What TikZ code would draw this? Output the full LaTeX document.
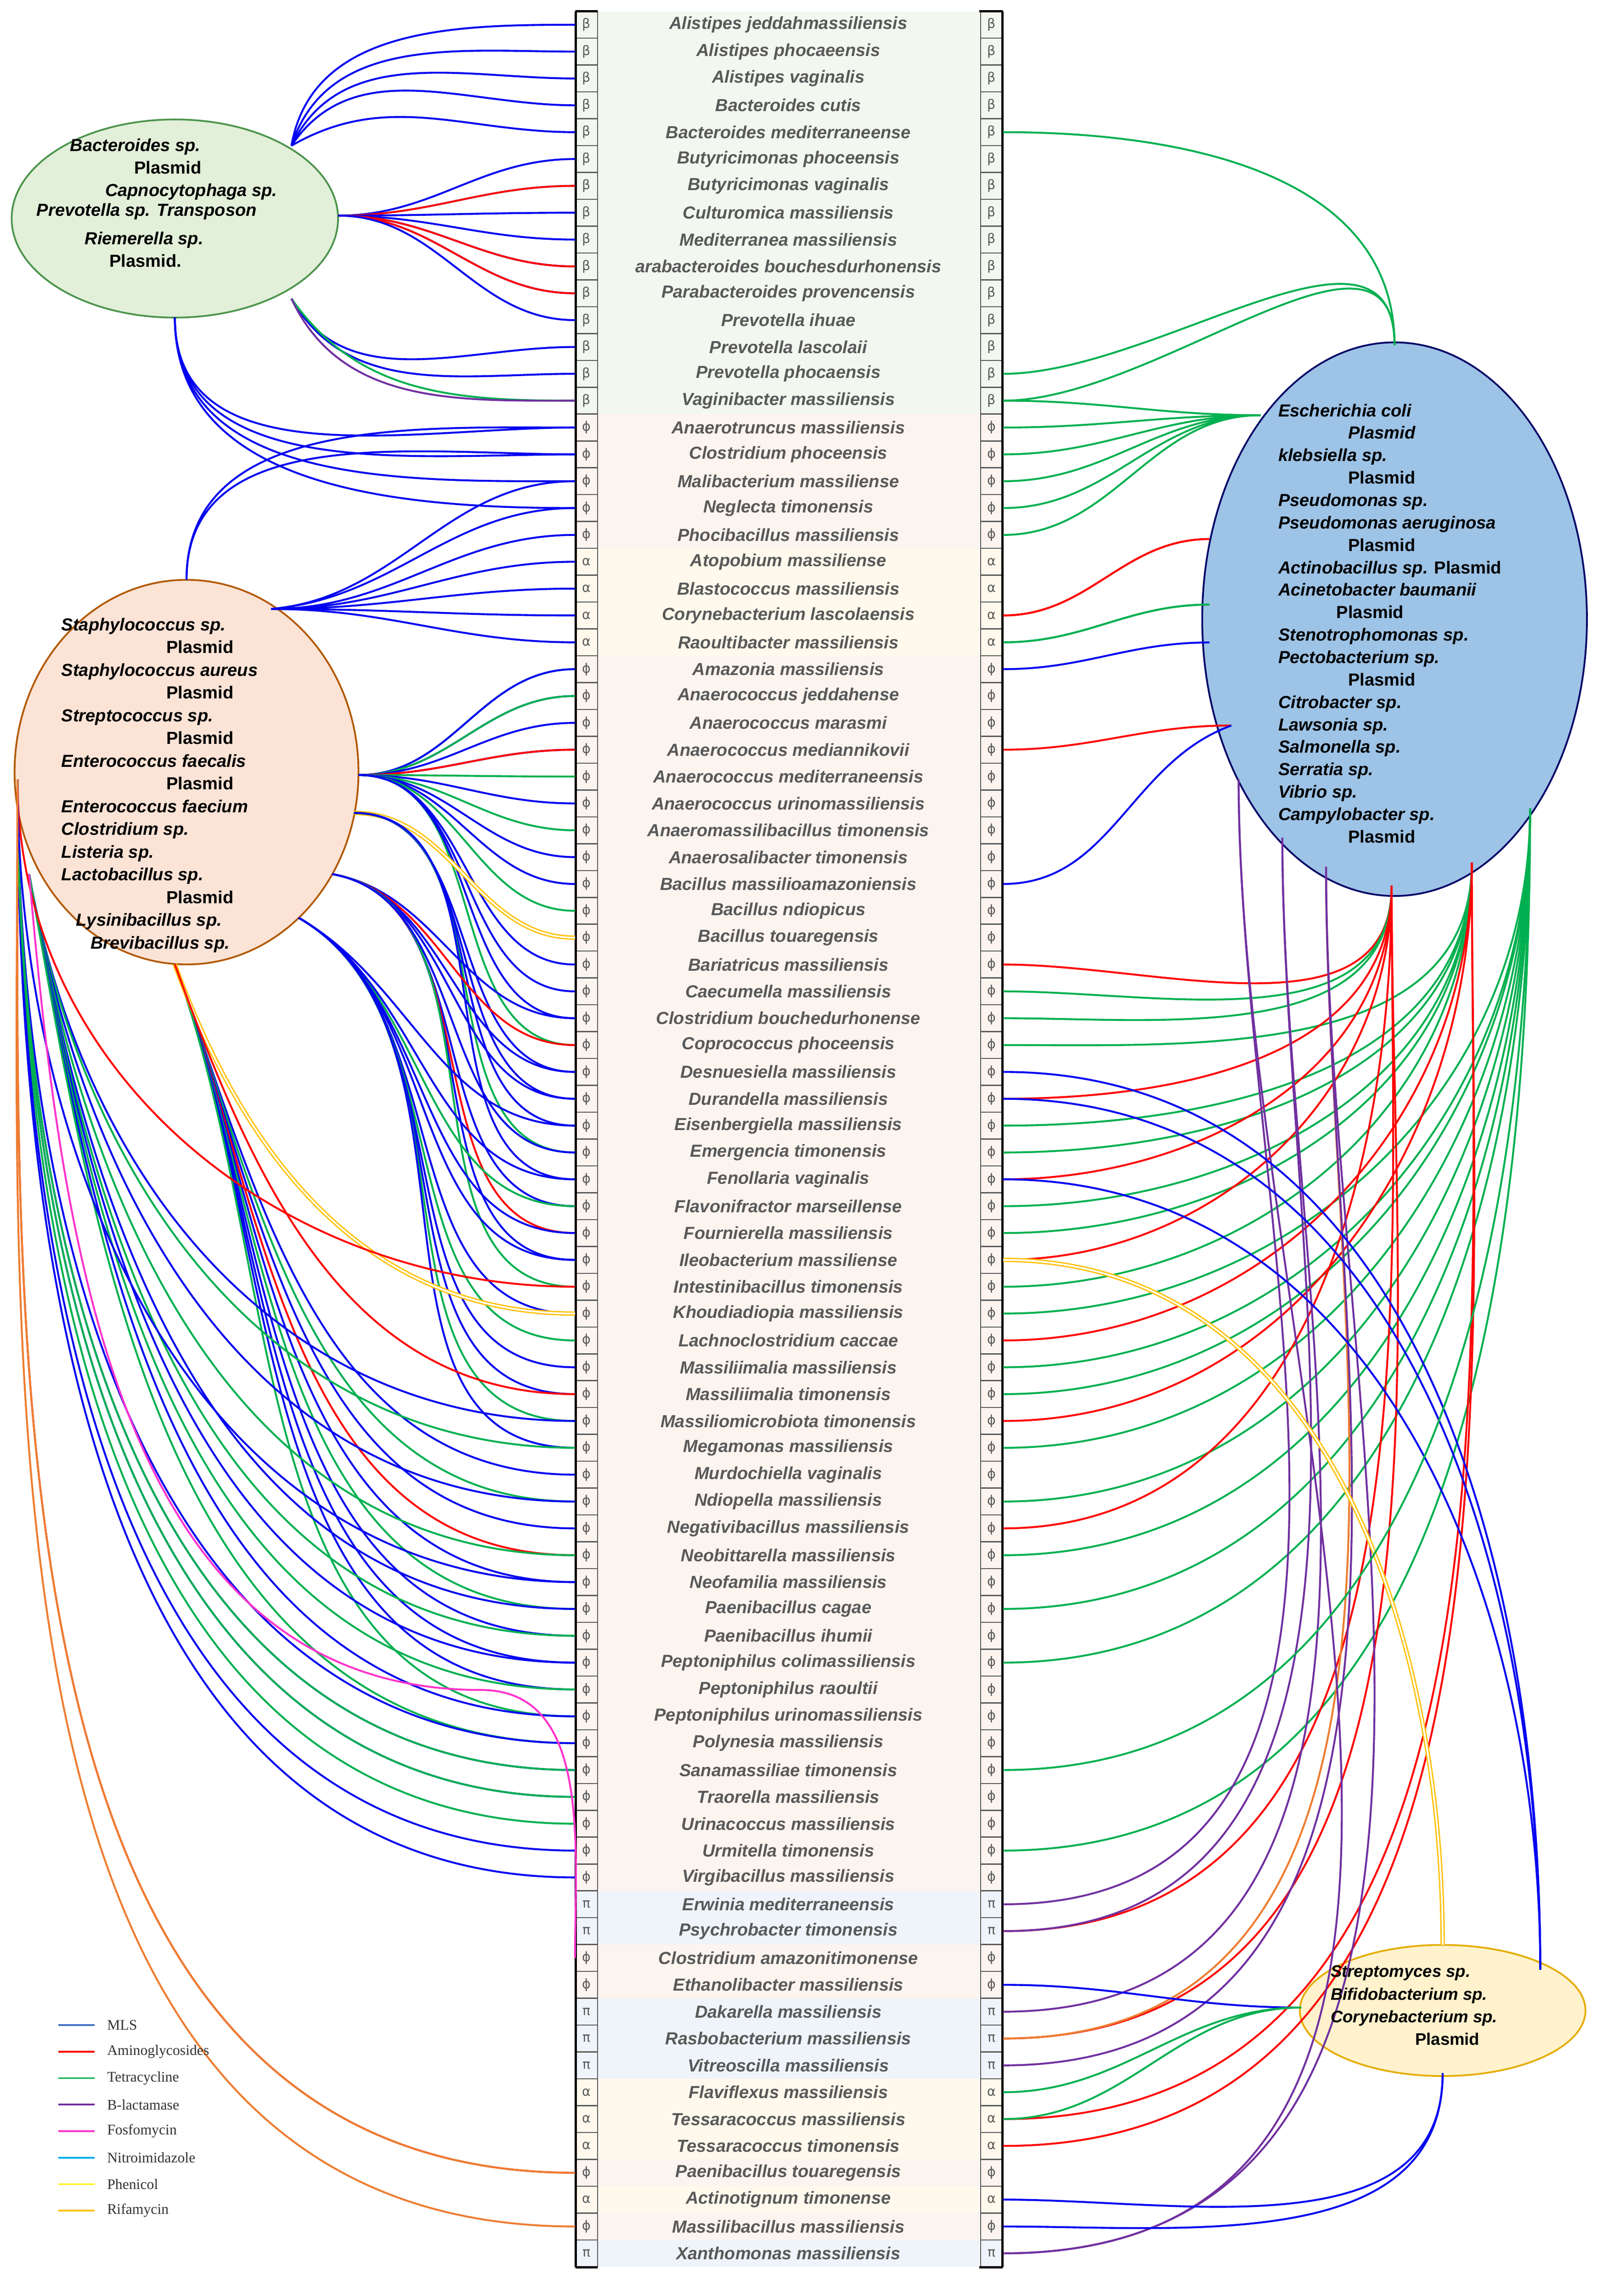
\documentclass[tikz,border=0pt]{standalone}
\usetikzlibrary{shapes.geometric}
\usepackage{fontspec}
\setmainfont{Liberation Sans}
\newfontfamily\symf{DejaVu Sans}
\newfontfamily\legf{Liberation Serif}
\begin{document}
\definecolor{gB}{HTML}{F2F7F0}
\definecolor{gF}{HTML}{FCF4EF}
\definecolor{gA}{HTML}{FEF9EC}
\definecolor{gP}{HTML}{EEF4FA}
\definecolor{txt}{HTML}{595959}
\definecolor{cB}{HTML}{0000F0}
\definecolor{cR}{HTML}{FF0000}
\definecolor{cG}{HTML}{00B050}
\definecolor{cP}{HTML}{7030A0}
\definecolor{cC}{HTML}{00B0F0}
\definecolor{cM}{HTML}{FF33CC}
\definecolor{cY}{HTML}{FFC000}
\definecolor{cO}{HTML}{ED7D31}
\definecolor{lB}{HTML}{4472C4}
\definecolor{eG}{HTML}{E2EFD9}
\definecolor{eS}{HTML}{FBE3D6}
\definecolor{eE}{HTML}{9DC3E6}
\definecolor{eY}{HTML}{FFF2CC}
\begin{tikzpicture}[x=1pt,y=-1pt,
  ln/.style={line width=1.3pt},
  B/.style={ln,draw=cB}, R/.style={ln,draw=cR}, G/.style={ln,draw=cG},
  P/.style={ln,draw=cP}, C/.style={ln,draw=cC}, M/.style={ln,draw=cM},
  O/.style={ln,draw=cO}, Y/.style={line width=0.9pt,draw=cY,double=white,double distance=1.2pt},
  sym/.style={draw=txt,line width=0.8pt,minimum width=15pt,minimum height=18.43pt,inner sep=0pt,font=\symf\fontsize{9}{9}\selectfont,text=txt},
  rowt/.style={minimum width=262pt,minimum height=18.43pt,inner sep=0pt,font=\bfseries\itshape\fontsize{12}{12}\selectfont,text=txt},
  etxt/.style={font=\bfseries\fontsize{12}{15.5}\selectfont,align=left,inner sep=0pt,anchor=north west},
  leg/.style={font=\legf\fontsize{10}{10}\selectfont,text=black!80,anchor=west}]
\useasboundingbox (0,0) rectangle (1100,1576);
% ---------- rows ----------
\foreach \i/\s/\c/\n in {
1/β/gB/Alistipes jeddahmassiliensis,2/β/gB/Alistipes phocaeensis,3/β/gB/Alistipes vaginalis,4/β/gB/Bacteroides cutis,5/β/gB/Bacteroides mediterraneense,6/β/gB/Butyricimonas phoceensis,7/β/gB/Butyricimonas vaginalis,8/β/gB/Culturomica massiliensis,9/β/gB/Mediterranea massiliensis,10/β/gB/arabacteroides bouchesdurhonensis,11/β/gB/Parabacteroides provencensis,12/β/gB/Prevotella ihuae,13/β/gB/Prevotella lascolaii,14/β/gB/Prevotella phocaensis,15/β/gB/Vaginibacter massiliensis,
16/ϕ/gF/Anaerotruncus massiliensis,17/ϕ/gF/Clostridium phoceensis,18/ϕ/gF/Malibacterium massiliense,19/ϕ/gF/Neglecta timonensis,20/ϕ/gF/Phocibacillus massiliensis,
21/α/gA/Atopobium massiliense,22/α/gA/Blastococcus massiliensis,23/α/gA/Corynebacterium lascolaensis,24/α/gA/Raoultibacter massiliensis,
25/ϕ/gF/Amazonia massiliensis,26/ϕ/gF/Anaerococcus jeddahense,27/ϕ/gF/Anaerococcus marasmi,28/ϕ/gF/Anaerococcus mediannikovii,29/ϕ/gF/Anaerococcus mediterraneensis,30/ϕ/gF/Anaerococcus urinomassiliensis,31/ϕ/gF/Anaeromassilibacillus timonensis,32/ϕ/gF/Anaerosalibacter timonensis,33/ϕ/gF/Bacillus massilioamazoniensis,34/ϕ/gF/Bacillus ndiopicus,35/ϕ/gF/Bacillus touaregensis,36/ϕ/gF/Bariatricus massiliensis,37/ϕ/gF/Caecumella massiliensis,38/ϕ/gF/Clostridium bouchedurhonense,39/ϕ/gF/Coprococcus phoceensis,40/ϕ/gF/Desnuesiella massiliensis,41/ϕ/gF/Durandella massiliensis,42/ϕ/gF/Eisenbergiella massiliensis,43/ϕ/gF/Emergencia timonensis,44/ϕ/gF/Fenollaria vaginalis,45/ϕ/gF/Flavonifractor marseillense,46/ϕ/gF/Fournierella massiliensis,47/ϕ/gF/Ileobacterium massiliense,48/ϕ/gF/Intestinibacillus timonensis,49/ϕ/gF/Khoudiadiopia massiliensis,50/ϕ/gF/Lachnoclostridium caccae,51/ϕ/gF/Massiliimalia massiliensis,52/ϕ/gF/Massiliimalia timonensis,53/ϕ/gF/Massiliomicrobiota timonensis,54/ϕ/gF/Megamonas massiliensis,55/ϕ/gF/Murdochiella vaginalis,56/ϕ/gF/Ndiopella massiliensis,57/ϕ/gF/Negativibacillus massiliensis,58/ϕ/gF/Neobittarella massiliensis,59/ϕ/gF/Neofamilia massiliensis,60/ϕ/gF/Paenibacillus cagae,61/ϕ/gF/Paenibacillus ihumii,62/ϕ/gF/Peptoniphilus colimassiliensis,63/ϕ/gF/Peptoniphilus raoultii,64/ϕ/gF/Peptoniphilus urinomassiliensis,65/ϕ/gF/Polynesia massiliensis,66/ϕ/gF/Sanamassiliae timonensis,67/ϕ/gF/Traorella massiliensis,68/ϕ/gF/Urinacoccus massiliensis,69/ϕ/gF/Urmitella timonensis,70/ϕ/gF/Virgibacillus massiliensis,
71/π/gP/Erwinia mediterraneensis,72/π/gP/Psychrobacter timonensis,73/ϕ/gF/Clostridium amazonitimonense,74/ϕ/gF/Ethanolibacter massiliensis,75/π/gP/Dakarella massiliensis,76/π/gP/Rasbobacterium massiliensis,77/π/gP/Vitreoscilla massiliensis,78/α/gA/Flaviflexus massiliensis,79/α/gA/Tessaracoccus massiliensis,80/α/gA/Tessaracoccus timonensis,81/ϕ/gF/Paenibacillus touaregensis,82/α/gA/Actinotignum timonense,83/ϕ/gF/Massilibacillus massiliensis,84/π/gP/Xanthomonas massiliensis}{
  \pgfmathsetmacro\yy{17+(\i-1)*18.43}
  \node[rowt,fill=\c] (r\i) at (541,\yy) {\n};
  \node[sym,fill=\c] (sl\i) at (402.5,\yy) {\s};
  \node[sym,fill=\c] (sr\i) at (680.5,\yy) {\s};
}
\draw[line width=1.6pt] (395,7.8) -- (395,1556.2);
\draw[line width=1.6pt] (688,7.8) -- (688,1556.2);
\draw[line width=1.6pt] (395,7.8) -- (410,7.8) (672,7.8) -- (688,7.8) (395,1556.2) -- (410,1556.2) (672,1556.2) -- (688,1556.2);
% ---------- ellipses ----------
\node[ellipse,draw=green!40!black!70,line width=1.2pt,fill=eG,minimum width=224pt,minimum height=136pt] (bac) at (120,150) {};
\node[draw=orange!70!black,line width=1.2pt,fill=eS,ellipse,minimum width=236pt,minimum height=264pt] (sta) at (128,530) {};
\node[draw=blue!40!black,line width=1.2pt,fill=eE,ellipse,minimum width=264pt,minimum height=380pt] (esc) at (957,425) {};
\node[draw=cY!90!black,line width=1.2pt,fill=eY,ellipse,minimum width=196pt,minimum height=90pt] (str) at (990,1380) {};
% ---------- anchor points ----------
\coordinate (bA) at (200,100); \coordinate (bB) at (232,148); \coordinate (bC) at (200,205); \coordinate (bD) at (120,218);
\coordinate (sT) at (128,398); \coordinate (sU) at (186,418);
\coordinate (sR1) at (246,532); \coordinate (sR2) at (243,558); \coordinate (sR3) at (228,600);
\coordinate (sR4) at (205,630); \coordinate (sB) at (120,662); \coordinate (sL) at (12,535); \coordinate (sL2) at (20,600);
\coordinate (eT) at (957,237); \coordinate (eU) at (865,285);
\coordinate (eL1) at (830,370); \coordinate (eL2) at (830,415); \coordinate (eL3) at (830,441); \coordinate (eL4) at (845,498);
\coordinate (eB0) at (850,535); \coordinate (eB1) at (880,575); \coordinate (eB2) at (910,595); \coordinate (eB3) at (955,608);
\coordinate (eB4) at (1010,592); \coordinate (eB5) at (1050,555);
\coordinate (tT) at (1057,1352); \coordinate (tY) at (990,1335); \coordinate (tL) at (893,1378); \coordinate (tB) at (990,1423);
% ---------- left connectors ----------
\foreach \p/\a/\r/\c in {bA/80/1/B,bA/72/2/B,bA/64/3/B,bA/56/4/B,bA/30/5/B,
 bB/0/6/B,bB/0/7/C,bB/0/7/R,bB/0/8/B,bB/0/9/B,bB/0/10/B,bB/0/10/R,bB/0/11/B,bB/0/11/R,bB/0/12/B,
 bC/-60/13/B,bC/-60/14/B,bC/-55/15/G,bC/-65/15/P,
 bD/-90/16/B,bD/-90/17/B,bD/-90/18/B,bD/-90/19/B,
 sT/90/16/B,sT/90/17/B,sU/5/18/B,sU/5/19/B,
 sU/0/20/B,sU/0/21/B,sU/0/22/B,sU/0/23/B,sU/0/24/B,
 sR1/0/25/G,sR1/0/25/B,sR1/0/26/B,sR1/0/26/G,sR1/0/27/B,sR1/0/28/B,sR1/0/28/R,sR1/0/29/G,sR1/0/30/B,sR1/0/31/G,sR1/0/32/B,sR1/0/33/B,sR1/0/34/G,sR1/0/36/B,sR1/0/37/B,sR1/0/39/G,sR1/0/38/B,
 sR2/0/35/Y,sR2/0/40/B,sR2/0/41/B,sR2/0/42/B,sR2/0/43/G,sR2/0/44/B,
 sR3/-10/38/B,sR3/-10/39/R,sR3/-10/40/B,sR3/-10/41/B,sR3/-10/45/B,sR3/-10/46/R,sR3/-10/47/B,sR3/-10/48/G,sR3/-10/43/B,
 sR4/-30/42/B,sR4/-30/45/G,sR4/-30/47/B,sR4/-30/49/B,sR4/-30/50/G,sR4/-30/51/B,sR4/-30/52/B,sR4/-30/53/G,sR4/-30/54/B,sR4/-30/46/B,sR4/-30/44/B,
 sB/-70/55/B,sB/-70/56/G,sB/-70/57/B,sB/-70/58/R,sB/-70/59/B,sB/-70/60/G,sB/-70/61/B,sB/-70/62/B,sB/-70/63/B,sB/-70/64/G,sB/-70/49/Y,sB/-70/52/R,
 sL2/-80/53/B,sL2/-80/54/G,sL2/-80/56/B,sL2/-80/58/G,sL2/-80/60/B,sL2/-80/61/G,sL2/-80/62/B,sL2/-80/63/G,sL2/-80/64/B,sL2/-80/65/G,
 sL/-90/65/B,sL/-90/66/B,sL/-90/67/B,sL/-90/68/G,sL/-90/69/B,sL/-90/70/B,sL/-90/66/G,sL/-90/67/G,sL/-90/48/R,sL/-90/59/B,
 sL/-90/81/R,sL/-90/81/O,sL/-90/83/O}
 { \draw[\c] (\p) to[out=\a,in=180] (sl\r.west); }
\draw[M] (sL2) to[out=-85,in=180] (330,1160) to[out=0,in=90] (sl73.west);
% ---------- right connectors ----------
\foreach \p/\a/\r/\c in {eT/90/5/G,eT/90/14/G,eT/90/15/G,
 eU/180/15/G,eU/180/16/G,eU/180/17/G,eU/180/18/G,eU/180/19/G,eU/180/20/G,
 eL1/180/23/R,eL1/180/23/R,eL2/180/24/G,eL2/180/24/G,eL3/180/25/B,eL4/180/28/R,eL4/200/33/B,
 eB3/-90/36/R,eB3/-90/37/G,eB3/-90/38/G,eB4/-90/39/G,eB3/-90/41/R,eB4/-90/42/G,eB4/-90/43/G,eB3/-90/44/R,eB4/-90/45/G,
 eB4/-90/46/G,eB3/-90/47/R,eB4/-90/48/G,eB5/-90/49/G,eB4/-90/50/R,eB5/-90/51/G,eB5/-90/52/G,eB4/-90/53/R,eB5/-90/54/G,
 eB5/-90/56/G,eB3/-90/57/R,eB5/-90/58/G,eB5/-90/60/G,eB5/-90/62/G,eB5/-90/69/G,
 eB3/-90/72/R,eB3/-90/76/R,eB4/-90/79/R,eB4/-90/80/R,eB2/-90/76/O,
 eB0/-90/71/P,eB1/-90/72/P,eB1/-90/75/P,eB2/-90/77/P,eB0/-90/84/P,eB2/-90/84/P,
 tT/90/40/B,tT/90/41/B,tT/90/44/B,tY/90/47/Y,eB5/-90/66/G,
 tL/180/74/B,tL/180/78/G,tL/180/79/G,tB/-90/82/B,tB/-90/83/B}
 { \draw[\c] (sr\r.east) to[out=0,in=\a] (\p); }
% ---------- ellipse texts ----------
\node[etxt] at (48,95) {\textit{Bacteroides sp.}\\\hspace*{44pt}Plasmid\\\hspace*{24pt}\textit{Capnocytophaga sp.}\\[-2pt]\hspace*{-23pt}\textit{Prevotella sp. Transposon}\\[4pt]\hspace*{10pt}\textit{Riemerella sp.}\\\hspace*{27pt}Plasmid.};
\node[etxt,font=\bfseries\fontsize{12}{15.6}\selectfont] at (42,424) {\textit{Staphylococcus sp.}\\\hspace*{72pt}Plasmid\\\textit{Staphylococcus aureus}\\\hspace*{72pt}Plasmid\\\textit{Streptococcus sp.}\\\hspace*{72pt}Plasmid\\\textit{Enterococcus faecalis}\\\hspace*{72pt}Plasmid\\\textit{Enterococcus faecium}\\\textit{Clostridium sp.}\\\textit{Listeria sp.}\\\textit{Lactobacillus sp.}\\\hspace*{72pt}Plasmid\\\hspace*{10pt}\textit{Lysinibacillus sp.}\\\hspace*{20pt}\textit{Brevibacillus sp.}};
\node[etxt,font=\bfseries\fontsize{12}{15.4}\selectfont] at (877,277) {\textit{Escherichia coli}\\\hspace*{48pt}\textit{Plasmid}\\\textit{klebsiella sp.}\\\hspace*{48pt}Plasmid\\\textit{Pseudomonas sp.}\\\textit{Pseudomonas aeruginosa}\\\hspace*{48pt}Plasmid\\\textit{Actinobacillus sp.} Plasmid\\\textit{Acinetobacter baumanii}\\\hspace*{40pt}Plasmid\\\textit{Stenotrophomonas sp.}\\\textit{Pectobacterium sp.}\\\hspace*{48pt}Plasmid\\\textit{Citrobacter sp.}\\\textit{Lawsonia sp.}\\\textit{Salmonella sp.}\\\textit{Serratia sp.}\\\textit{Vibrio sp.}\\\textit{Campylobacter sp.}\\\hspace*{48pt}Plasmid};
\node[etxt,font=\bfseries\fontsize{11.5}{15.5}\selectfont] at (913,1349) {\textit{Streptomyces sp.}\\\textit{Bifidobacterium sp.}\\\textit{Corynebacterium sp.}\\\hspace*{58pt}Plasmid};
% ---------- legend ----------
\foreach \k/\c/\t in {0/lB/MLS,1/cR/Aminoglycosides,2/cG/Tetracycline,3/cP/Β-lactamase,4/cM/Fosfomycin,5/cC/Nitroimidazole,6/yellow/Phenicol,7/cY/Rifamycin}{
  \pgfmathsetmacro\ly{1390+\k*18.2}
  \coordinate (lg\k) at (40,\ly);
  \draw[line width=1.2pt,draw=\c] (lg\k) -- ++(25,0) coordinate (lh\k);
  \node[leg] (lt\k) at ([xshift=5pt]lh\k) {\t};
}
\end{tikzpicture}
\end{document}
